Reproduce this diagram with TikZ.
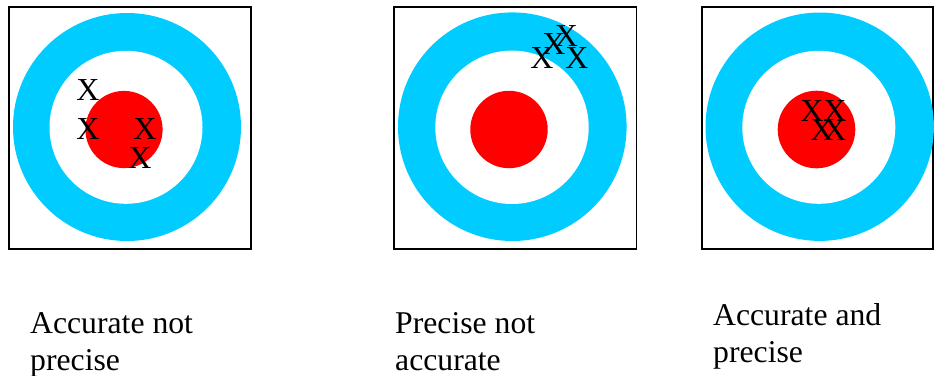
\documentclass[tikz,border=0pt]{standalone}
\usepackage{fontspec}
\setmainfont{Liberation Serif}
\definecolor{ringblue}{HTML}{00CCFF}
\definecolor{bullred}{HTML}{FF0000}
\begin{document}
\begin{tikzpicture}[x=1pt,y=-1pt,
  frame/.style={draw=black,line width=1.6pt,fill=white},
  ring/.style={fill=ringblue},
  inner/.style={fill=white},
  bull/.style={fill=bullred},
  hit/.style={inner sep=0pt,font=\fontsize{32}{36}\selectfont},
  caption/.style={inner sep=0pt,anchor=base west,align=left,font=\fontsize{31.7}{37}\selectfont}]
\useasboundingbox[fill=white] (0,0) rectangle (934,375);
% target 1
\draw[frame] (9,7) rectangle (251,249);
\fill[ring] (127,127) circle (114);
\fill[inner] (126,127.3) circle (76.5);
\fill[bull] (124,129.5) circle (38.6);
\node[hit] (a1) at (88,90) {X};
\node[hit] (a2) at (88,129) {X};
\node[hit] (a3) at (145,129) {X};
\node[hit] (a4) at (140,158) {X};
% target 2
\draw[frame] (394,7) rectangle (636.5,249);
\fill[ring] (512.3,126.7) circle (114.3);
\fill[inner] (512,127.3) circle (76.7);
\fill[bull] (509,129.5) circle (38.7);
\node[hit] (b1) at (542,58) {X};
\node[hit] (b2) at (554,44) {X};
\node[hit] (b3) at (566.5,36) {X};
\node[hit] (b4) at (577,58) {X};
% target 3
\draw[frame] (701.7,7) rectangle (933,249);
\fill[ring] (819.7,126.7) circle (114.2);
\fill[inner] (818.8,127.3) circle (76.5);
\fill[bull] (816.5,129.5) circle (38.8);
\node[hit] (c1) at (812,111) {X};
\node[hit] (c2) at (835,111) {X};
\node[hit] (c3) at (822,130) {X};
\node[hit] (c4) at (835,130) {X};
% captions
\node[caption] (t1) at (30,370) {Accurate not\\precise};
\node[caption] (t2) at (395,370) {Precise not\\accurate};
\node[caption] (t3) at (713,362) {Accurate and\\precise};
\end{tikzpicture}
\end{document}
